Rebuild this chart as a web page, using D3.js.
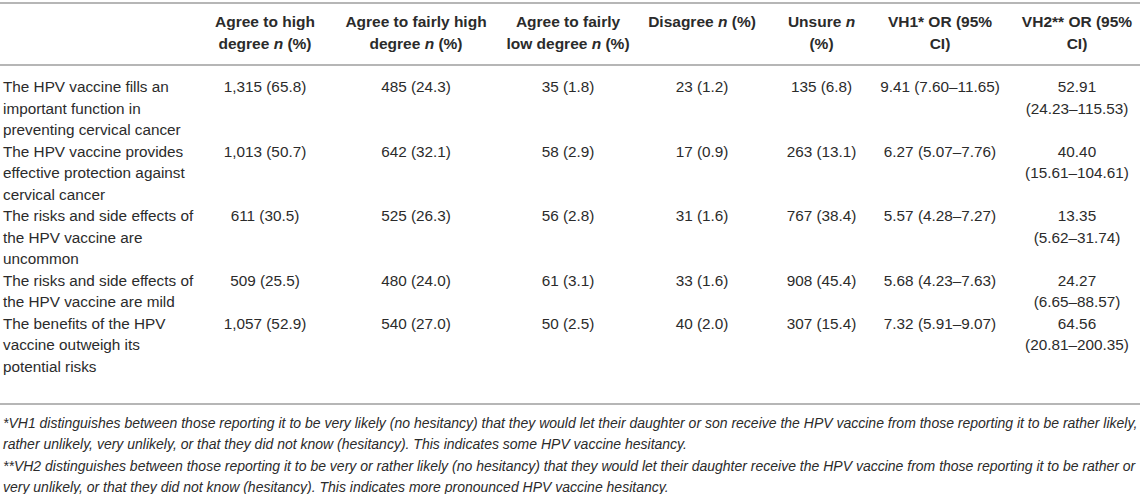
<!DOCTYPE html>
<html>
<head>
<meta charset="utf-8">
<script src="https://cdn.jsdelivr.net/npm/d3@7"></script>
<style>
  html, body { margin: 0; padding: 0; background: #fff; }
  svg { display: block; }
  text { font-family: "Liberation Sans", Arial, Helvetica, sans-serif; fill: #2b2b2b; }
</style>
</head>
<body>
<svg id="chart" width="1143" height="494"></svg>
<script>
// ---- data ----
const statements = [
  "The HPV vaccine fills an important function in preventing cervical cancer",
  "The HPV vaccine provides effective protection against cervical cancer",
  "The risks and side effects of the HPV vaccine are uncommon",
  "The risks and side effects of the HPV vaccine are mild",
  "The benefits of the HPV vaccine outweigh its potential risks"
];
const headers = [
  [["Agree to high"], ["degree ", ["n"], " (%)"]],
  [["Agree to fairly high"], ["degree ", ["n"], " (%)"]],
  [["Agree to fairly"], ["low degree ", ["n"], " (%)"]],
  [["Disagree ", ["n"], " (%)"]],
  [["Unsure ", ["n"]], ["(%)"]],
  [["VH1* OR (95%"], ["CI)"]],
  [["VH2** OR (95%"], ["CI)"]]
];
const agreeHighN = [1315, 1013, 611, 509, 1057];
const agreeHighPct = [65.8, 50.7, 30.5, 25.5, 52.9];
const agreeFairlyHighN = [485, 642, 525, 480, 540];
const agreeFairlyHighPct = [24.3, 32.1, 26.3, 24.0, 27.0];
const agreeFairlyLowN = [35, 58, 56, 61, 50];
const agreeFairlyLowPct = [1.8, 2.9, 2.8, 3.1, 2.5];
const disagreeN = [23, 17, 31, 33, 40];
const disagreePct = [1.2, 0.9, 1.6, 1.6, 2.0];
const unsureN = [135, 263, 767, 908, 307];
const unsurePct = [6.8, 13.1, 38.4, 45.4, 15.4];
const vh1OR = [9.41, 6.27, 5.57, 5.68, 7.32];
const vh1Lo = [7.60, 5.07, 4.28, 4.23, 5.91];
const vh1Hi = [11.65, 7.76, 7.27, 7.63, 9.07];
const vh2OR = [52.91, 40.40, 13.35, 24.27, 64.56];
const vh2Lo = [24.23, 15.61, 5.62, 6.65, 20.81];
const vh2Hi = [115.53, 104.61, 31.74, 88.57, 200.35];
const footnotes = [
  "*VH1 distinguishes between those reporting it to be very likely (no hesitancy) that they would let their daughter or son receive the HPV vaccine from those reporting it to be rather likely,",
  "rather unlikely, very unlikely, or that they did not know (hesitancy). This indicates some HPV vaccine hesitancy.",
  "**VH2 distinguishes between those reporting it to be very or rather likely (no hesitancy) that they would let their daughter receive the HPV vaccine from those reporting it to be rather or",
  "very unlikely, or that they did not know (hesitancy). This indicates more pronounced HPV vaccine hesitancy."
];

// ---- layout ----
const FS = 15.3;
const HFS = 15.5;
const LH = 21.5;
const labelX = 3;
const labelWrap = 194;
const colIdx = d3.range(7);
const x = d3.scaleOrdinal().domain(colIdx).range([265, 416, 568, 702, 821.5, 940, 1077]);

const svg = d3.select("#chart");
const fmtN = d3.format(",");
const fmt1 = d3.format(".1f");
const fmt2 = d3.format(".2f");

function np(n, p) { return fmtN(n) + " (" + fmt1(p) + ")"; }
function orci(o, l, h) { return [fmt2(o), "(" + fmt2(l) + "\u2013" + fmt2(h) + ")"]; }

// measurer for label wrapping
const meas = svg.append("text").attr("font-size", FS).attr("visibility", "hidden");
function wrap(str, width) {
  const words = str.split(" ");
  const lines = [];
  let cur = "";
  words.forEach(w => {
    const t = cur ? cur + " " + w : w;
    meas.text(t);
    if (meas.node().getComputedTextLength() > width && cur) { lines.push(cur); cur = w; }
    else cur = t;
  });
  if (cur) lines.push(cur);
  return lines;
}

const rows = statements.map((s, i) => {
  const cells = [
    [np(agreeHighN[i], agreeHighPct[i])],
    [np(agreeFairlyHighN[i], agreeFairlyHighPct[i])],
    [np(agreeFairlyLowN[i], agreeFairlyLowPct[i])],
    [np(disagreeN[i], disagreePct[i])],
    [np(unsureN[i], unsurePct[i])],
    [orci(vh1OR[i], vh1Lo[i], vh1Hi[i]).join(" ")],
    orci(vh2OR[i], vh2Lo[i], vh2Hi[i])
  ];
  const label = wrap(s, labelWrap);
  const nLines = Math.max(label.length, d3.max(cells, c => c.length));
  return { label, cells, nLines };
});
meas.remove();

// line-index scale for vertical placement
let acc = 0;
rows.forEach(r => { r.start = acc; acc += r.nLines; });
const yLine = d3.scaleLinear().domain([0, 1]).range([92, 92 + LH]);
const yHead = d3.scaleLinear().domain([0, 1]).range([27, 27 + LH]);
const yFoot = d3.scaleLinear().domain([0, 1]).range([427.5, 427.5 + LH]);

const ruleColor = "#9e9e9e";
const rules = [3, 65, 404];
svg.selectAll("line.rule").data(rules).join("line")
  .attr("class", "rule")
  .attr("x1", 0).attr("x2", 1140)
  .attr("y1", d => d).attr("y2", d => d)
  .attr("stroke", ruleColor).attr("stroke-width", 1.4);

// headers
headers.forEach((h, ci) => {
  h.forEach((line, li) => {
    const t = svg.append("text")
      .attr("x", x(ci)).attr("y", yHead(li))
      .attr("text-anchor", "middle")
      .attr("font-size", HFS).attr("font-weight", "bold");
    line.forEach(part => {
      if (Array.isArray(part)) t.append("tspan").attr("font-style", "italic").text(part[0]);
      else t.append("tspan").text(part);
    });
  });
});

// body rows
const g = svg.selectAll("g.row").data(rows).join("g").attr("class", "row");
g.each(function(r) {
  const gr = d3.select(this);
  gr.selectAll("text.lab").data(r.label).join("text")
    .attr("class", "lab")
    .attr("x", labelX).attr("y", (d, li) => yLine(r.start + li))
    .attr("font-size", FS).text(d => d);
  r.cells.forEach((c, ci) => {
    gr.selectAll("text.c" + ci).data(c).join("text")
      .attr("class", "c" + ci)
      .attr("x", x(ci)).attr("y", (d, li) => yLine(r.start + li))
      .attr("text-anchor", "middle")
      .attr("font-size", FS).text(d => d);
  });
});

// footnotes
svg.selectAll("text.foot").data(footnotes).join("text")
  .attr("class", "foot")
  .attr("x", labelX).attr("y", (d, i) => yFoot(i))
  .attr("font-size", 14).attr("font-style", "italic")
  .text(d => d);
</script>
</body>
</html>
